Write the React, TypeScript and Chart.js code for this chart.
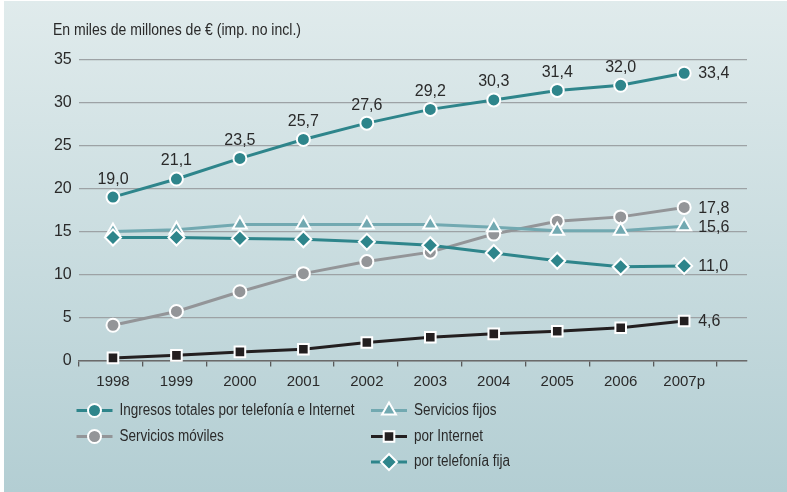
import React, { useEffect, useRef } from "react";
import { Chart, registerables } from "chart.js";

Chart.register(...registerables);

const years = ["1998", "1999", "2000", "2001", "2002", "2003", "2004", "2005", "2006", "2007p"];
const ingresosTotales = [19.0, 21.1, 23.5, 25.7, 27.6, 29.2, 30.3, 31.4, 32.0, 33.4];
const serviciosMoviles = [4.1, 5.7, 8.0, 10.1, 11.5, 12.6, 14.7, 16.2, 16.7, 17.8];
const serviciosFijos = [15.0, 15.2, 15.8, 15.8, 15.8, 15.8, 15.5, 15.1, 15.1, 15.6];
const porInternet = [0.3, 0.6, 1.0, 1.3, 2.1, 2.7, 3.1, 3.4, 3.8, 4.6];
const porTelefoniaFija = [14.3, 14.3, 14.2, 14.1, 13.8, 13.4, 12.5, 11.6, 10.9, 11.0];
const yTicks = [0, 5, 10, 15, 20, 25, 30, 35];
const titleText = "En miles de millones de € (imp. no incl.)";

const TEAL = "#2e858b";
const LIGHT_TEAL = "#72a9b1";
const GREY = "#939598";
const BLACK = "#231f20";
const TEXT = "#2a2a2a";
const NUM = "'Liberation Sans', Arial, sans-serif";

const fmt = (v: number) => v.toFixed(1).replace(".", ",");
const toXY = (arr: number[]) => arr.map((v, i) => ({ x: i, y: v }));

function drawMarker(ctx: CanvasRenderingContext2D, style: string, x: number, y: number, r: number, fill: string) {
  ctx.save();
  ctx.beginPath();
  if (style === "circle") {
    ctx.arc(x, y, r, 0, Math.PI * 2);
  } else if (style === "triangle") {
    for (let k = 0; k < 3; k++) {
      const a = (k * 2 * Math.PI) / 3;
      const px = x + Math.sin(a) * r;
      const py = y - Math.cos(a) * r;
      if (k === 0) ctx.moveTo(px, py);
      else ctx.lineTo(px, py);
    }
    ctx.closePath();
  } else if (style === "rect") {
    const s = Math.SQRT1_2 * r;
    ctx.rect(x - s, y - s, 2 * s, 2 * s);
  } else if (style === "rectRot") {
    ctx.moveTo(x - r, y);
    ctx.lineTo(x, y - r);
    ctx.lineTo(x + r, y);
    ctx.lineTo(x, y + r);
    ctx.closePath();
  }
  ctx.fillStyle = fill;
  ctx.fill();
  ctx.lineWidth = 2;
  ctx.strokeStyle = "#ffffff";
  ctx.stroke();
  ctx.restore();
}

function drawNarrow(ctx: CanvasRenderingContext2D, text: string, x: number, y: number, sx: number) {
  ctx.save();
  ctx.translate(x, y);
  ctx.scale(sx, 1);
  ctx.textAlign = "left";
  ctx.textBaseline = "middle";
  ctx.fillText(text, 0, 0);
  ctx.restore();
}

export default function App() {
  const canvasRef = useRef<HTMLCanvasElement | null>(null);

  useEffect(() => {
    document.body.style.margin = "0";
    const canvas = canvasRef.current;
    if (!canvas) return;

    const seriesDefs = [
      { label: "Ingresos totales por telefonía e Internet", data: ingresosTotales, color: TEAL, style: "circle", radius: 6.5, order: 1 },
      { label: "Servicios móviles", data: serviciosMoviles, color: GREY, style: "circle", radius: 6.5, order: 5 },
      { label: "Servicios fijos", data: serviciosFijos, color: LIGHT_TEAL, style: "triangle", radius: 8, order: 4 },
      { label: "por Internet", data: porInternet, color: BLACK, style: "rect", radius: 7.5, order: 2 },
      { label: "por telefonía fija", data: porTelefoniaFija, color: TEAL, style: "rectRot", radius: 8, order: 3 },
    ];

    const legendPos = [
      { x: 94.5, y: 410.5 },
      { x: 94.5, y: 436.5 },
      { x: 389, y: 410.5 },
      { x: 389, y: 436.5 },
      { x: 389, y: 462 },
    ];

    const bgPlugin = {
      id: "bg",
      beforeDraw(chart: any) {
        const ctx = chart.ctx as CanvasRenderingContext2D;
        ctx.save();
        ctx.fillStyle = "#ffffff";
        ctx.fillRect(0, 0, chart.width, chart.height);
        const g = ctx.createLinearGradient(0, 1, 0, chart.height);
        g.addColorStop(0, "#e0ebec");
        g.addColorStop(1, "#b3ced3");
        ctx.fillStyle = g;
        ctx.fillRect(4, 1, chart.width - 4, chart.height - 1);
        ctx.restore();
      },
    };

    const annotPlugin = {
      id: "annot",
      afterDatasetsDraw(chart: any) {
        const ctx = chart.ctx as CanvasRenderingContext2D;
        ctx.save();
        ctx.fillStyle = TEXT;
        ctx.font = `16px ${NUM}`;
        const meta0 = chart.getDatasetMeta(0);
        meta0.data.forEach((pt: any, i: number) => {
          const v = ingresosTotales[i];
          if (i < ingresosTotales.length - 1) {
            ctx.textAlign = "center";
            ctx.textBaseline = "middle";
            ctx.fillText(fmt(v), pt.x, pt.y - 18);
          } else {
            ctx.textAlign = "left";
            ctx.textBaseline = "middle";
            ctx.fillText(fmt(v), pt.x + 14, pt.y);
          }
        });
        [1, 2, 3, 4].forEach((di) => {
          const meta = chart.getDatasetMeta(di);
          const arr = seriesDefs[di].data;
          const last = meta.data[arr.length - 1];
          ctx.textAlign = "left";
          ctx.textBaseline = "middle";
          ctx.fillText(fmt(arr[arr.length - 1]), last.x + 14, last.y + 1);
        });
        ctx.restore();
      },
      afterDraw(chart: any) {
        const ctx = chart.ctx as CanvasRenderingContext2D;
        ctx.save();
        ctx.fillStyle = TEXT;
        ctx.font = `16px ${NUM}`;
        const titleScale = 248 / ctx.measureText(titleText).width;
        drawNarrow(ctx, titleText, 53, 31, titleScale);
        const legScale = 235 / ctx.measureText(seriesDefs[0].label).width;
        seriesDefs.forEach((s, i) => {
          const p = legendPos[i];
          ctx.beginPath();
          ctx.moveTo(p.x - 18, p.y);
          ctx.lineTo(p.x + 18, p.y);
          ctx.lineWidth = 3;
          ctx.strokeStyle = s.color;
          ctx.stroke();
          drawMarker(ctx, s.style, p.x, p.y, s.radius, s.color);
          ctx.fillStyle = TEXT;
          drawNarrow(ctx, s.label, p.x + 25, p.y, legScale);
        });
        ctx.restore();
      },
    };

    // data axis (points & labels) and tick-mark axis share the same pixel span
    const xMin = -0.54;
    const xMax = 9.99;
    const tMin = -0.5;
    const tMax = 9.97;

    const chart = new Chart(canvas, {
      type: "line",
      data: {
        datasets: seriesDefs.map((s) => ({
          label: s.label,
          data: toXY(s.data),
          borderColor: s.color,
          backgroundColor: s.color,
          borderWidth: 3,
          pointStyle: s.style as any,
          pointRadius: s.radius,
          pointBackgroundColor: s.color,
          pointBorderColor: "#ffffff",
          pointBorderWidth: 2,
          tension: 0,
          fill: false,
          order: s.order,
          clip: false as any,
        })),
      },
      options: {
        responsive: false,
        animation: false,
        devicePixelRatio: 1,
        layout: { padding: { left: 0, right: 40, top: 59.5, bottom: 91.5 } },
        plugins: {
          legend: { display: false },
          tooltip: { enabled: false },
          title: { display: false },
        },
        scales: {
          y: {
            type: "linear",
            min: 0,
            max: 35,
            afterBuildTicks: (axis: any) => {
              axis.ticks = yTicks.map((v) => ({ value: v }));
            },
            afterFit: (axis: any) => {
              axis.width = 78.7;
            },
            grid: { color: "#9da2a5", lineWidth: 1.2, drawTicks: false },
            border: { display: false },
            ticks: {
              color: TEXT,
              font: { family: NUM, size: 16 },
              padding: 7,
              callback: (v: any) => String(v),
            },
          },
          x: {
            type: "linear",
            position: "bottom",
            min: xMin,
            max: xMax,
            weight: 1,
            afterBuildTicks: (axis: any) => {
              axis.ticks = years.map((_, i) => ({ value: i }));
            },
            afterFit: (axis: any) => {
              axis.height = 40;
            },
            grid: { display: false, drawTicks: false },
            border: { display: false },
            ticks: {
              color: TEXT,
              font: { family: NUM, size: 15 },
              padding: 12,
              autoSkip: false,
              maxRotation: 0,
              callback: (_v: any, i: number) => years[i],
            },
          },
          xt: {
            type: "linear",
            position: "bottom",
            min: tMin,
            max: tMax,
            weight: 0,
            afterBuildTicks: (axis: any) => {
              const t: any[] = [];
              for (let k = 0; k <= years.length; k++) t.push({ value: k - 0.5 });
              axis.ticks = t;
            },
            afterFit: (axis: any) => {
              axis.height = 0;
            },
            grid: { drawOnChartArea: false, drawTicks: true, tickLength: 6, color: "#5a5a5a", lineWidth: 1.3 },
            border: { display: true, color: "#6a6a6a", width: 1.5 },
            ticks: { display: false },
          },
        },
      } as any,
      plugins: [bgPlugin, annotPlugin],
    });

    return () => {
      chart.destroy();
    };
  }, []);

  return (
    <div style={{ width: 787, height: 492 }}>
      <canvas ref={canvasRef} width={787} height={492} style={{ display: "block" }} />
    </div>
  );
}
